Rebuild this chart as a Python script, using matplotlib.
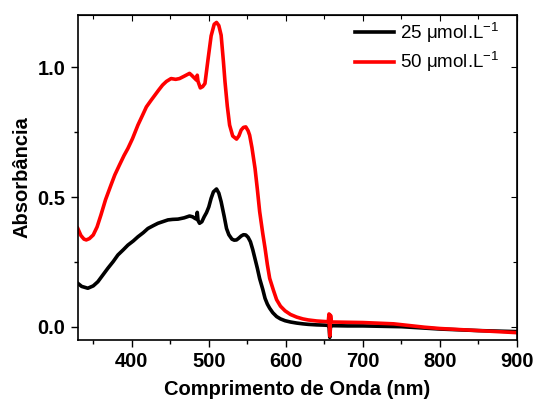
import matplotlib
matplotlib.use("Agg")
import matplotlib.pyplot as plt
from matplotlib.ticker import MultipleLocator, FormatStrFormatter

plt.rcParams['font.family'] = ['Liberation Sans', 'DejaVu Sans']
plt.rcParams['mathtext.fontset'] = 'custom'
plt.rcParams['mathtext.rm'] = 'Liberation Sans'

wl_25 = [330, 335, 343, 350, 356, 362, 369, 376, 382, 389, 395, 402, 408, 415, 421, 428,
         434, 440, 447, 453, 460, 468, 475, 479, 482, 484, 485, 486, 488, 491, 494, 497,
         500, 503, 506, 510, 513, 516, 520, 523, 526, 530, 533, 536, 539, 542, 545, 548,
         551, 554, 557, 560, 563, 566, 570, 573, 576, 579, 583, 588, 593, 599, 606, 614,
         622, 629, 640, 650, 655, 656, 657, 658, 660, 680, 700, 750, 800, 850, 900]
abs_25 = [0.168, 0.156, 0.149, 0.158, 0.174, 0.198, 0.226, 0.252, 0.277, 0.297, 0.315, 0.331,
          0.347, 0.363, 0.379, 0.390, 0.399, 0.405, 0.412, 0.414, 0.415, 0.420, 0.427, 0.424,
          0.418, 0.415, 0.441, 0.410, 0.399, 0.405, 0.424, 0.440, 0.462, 0.495, 0.520, 0.531,
          0.515, 0.482, 0.425, 0.379, 0.355, 0.338, 0.334, 0.335, 0.342, 0.350, 0.355, 0.354,
          0.345, 0.328, 0.298, 0.262, 0.226, 0.186, 0.145, 0.110, 0.088, 0.072, 0.055, 0.040,
          0.031, 0.024, 0.019, 0.015, 0.012, 0.010, 0.008, 0.007, 0.006, 0.004, -0.040, 0.004,
          0.005, 0.004, 0.004, 0.001, -0.008, -0.014, -0.018]

wl_50 = [330, 334, 338, 341, 345, 350, 355, 360, 366, 373, 378, 384, 390, 395, 401, 408,
         414, 419, 425, 430, 435, 440, 445, 451, 457, 462, 468, 475, 478, 482, 484, 485,
         486, 489, 492, 495, 499, 503, 507, 510, 513, 516, 519, 521, 524, 527, 531, 536,
         539, 542, 545, 548, 551, 553, 556, 560, 563, 566, 570, 573, 576, 579, 584, 588,
         593, 599, 606, 614, 622, 629, 640, 650, 655, 656, 657, 658, 659, 660, 700, 740,
         780, 800, 850, 900]
abs_50 = [0.379, 0.352, 0.338, 0.335, 0.340, 0.354, 0.385, 0.431, 0.490, 0.546, 0.585, 0.623,
          0.660, 0.687, 0.725, 0.777, 0.815, 0.847, 0.872, 0.892, 0.912, 0.931, 0.945, 0.956,
          0.953, 0.956, 0.965, 0.976, 0.968, 0.956, 0.950, 0.969, 0.945, 0.920, 0.925, 0.937,
          1.030, 1.120, 1.165, 1.172, 1.160, 1.123, 1.020, 0.944, 0.850, 0.777, 0.735, 0.723,
          0.735, 0.758, 0.768, 0.770, 0.755, 0.738, 0.690, 0.610, 0.530, 0.444, 0.360, 0.303,
          0.240, 0.187, 0.140, 0.105, 0.080, 0.062, 0.048, 0.038, 0.031, 0.027, 0.023, 0.021,
          0.020, 0.050, -0.035, 0.045, 0.020, 0.019, 0.017, 0.012, -0.001, -0.006, -0.014,
          -0.022]

labels = ['25 μmol.L$^{-1}$', '50 μmol.L$^{-1}$']
colors = ['#000000', '#ff0000']

fig = plt.figure(figsize=(5.33, 3.99), dpi=100)
ax = fig.add_axes([0.146, 0.148, 0.824, 0.814])

ax.plot(wl_25, abs_25, color=colors[0], lw=2.6, label=labels[0])
ax.plot(wl_50, abs_50, color=colors[1], lw=2.6, label=labels[1])

ax.set_xlim(330, 900)
ax.set_ylim(-0.05, 1.2)
ax.xaxis.set_major_locator(MultipleLocator(100))
ax.xaxis.set_minor_locator(MultipleLocator(50))
ax.yaxis.set_major_locator(MultipleLocator(0.5))
ax.yaxis.set_minor_locator(MultipleLocator(0.25))
ax.yaxis.set_major_formatter(FormatStrFormatter('%.1f'))

ax.tick_params(which='both', direction='out', top=False, right=False, width=1)
ax.tick_params(which='major', length=5, labelsize=14.5, pad=4)
ax.tick_params(which='minor', length=3)
for lab in ax.get_xticklabels() + ax.get_yticklabels():
    lab.set_fontweight('bold')

top = ax.secondary_xaxis('top')
top.xaxis.set_major_locator(MultipleLocator(100))
top.xaxis.set_minor_locator(MultipleLocator(50))
top.tick_params(which='both', direction='in', labeltop=False, width=0.8)
top.tick_params(which='major', length=4)
top.tick_params(which='minor', length=3)
right = ax.secondary_yaxis('right')
right.yaxis.set_major_locator(MultipleLocator(0.5))
right.yaxis.set_minor_locator(MultipleLocator(0.25))
right.tick_params(which='both', direction='in', labelright=False, width=0.8)
right.tick_params(which='major', length=4)
right.tick_params(which='minor', length=3)

for sp in ax.spines.values():
    sp.set_linewidth(1.2)

ax.set_xlabel('Comprimento de Onda (nm)', fontsize=14.5, fontweight='bold', labelpad=6)
ax.set_ylabel('Absorbância', fontsize=14.5, fontweight='bold', labelpad=4)

leg = ax.legend(loc='upper right', bbox_to_anchor=(0.985, 1.02), frameon=False, fontsize=13.5,
                handlelength=2.1, handletextpad=0.3, labelspacing=0.25, borderaxespad=0.2)
for line in leg.get_lines():
    line.set_linewidth(2.6)

fig.savefig('out.png', dpi=100)
